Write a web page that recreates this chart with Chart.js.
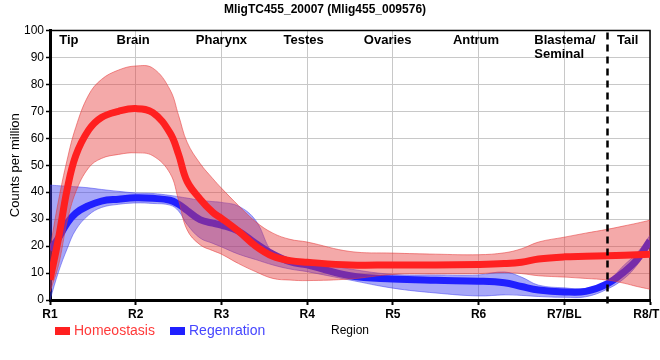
<!DOCTYPE html>
<html lang="en">
<head>
    <meta charset="UTF-8">
    <title>MligTC455_20007</title>
    <script src="https://cdn.jsdelivr.net/npm/chart.js"></script>
    <style>
        body { margin: 0; overflow: hidden; background: #fff; }
        #wrap { width: 660px; height: 360px; }
    </style>
</head>
<body>
    <div id="wrap"><canvas id="chart" width="660" height="360"></canvas></div>
    <script>
        // positions along the body, 1 = R1 ... 8 = R8
        const xs = [1, 1.1, 1.2, 1.3, 1.45, 1.6, 1.8, 2, 2.2, 2.4, 2.5, 2.6, 2.75, 2.9, 3, 3.2, 3.4, 3.6, 3.8, 4, 4.5, 5, 5.5, 6, 6.3, 6.5, 6.7, 7, 7.25, 7.5, 7.7, 7.85, 8];

        const homeoMean  = [7.5, 23, 41, 53.5, 63, 67.7, 70, 71, 69.5, 62, 54, 44, 37.5, 32.5, 30.3, 25.5, 20, 16.2, 14.6, 14, 13, 13, 13, 13.2, 13.5, 14, 15.2, 16, 16.2, 16.4, 16.6, 16.8, 17];
        const homeoUpper = [19, 37, 52, 64, 76, 81.8, 85.3, 86.8, 86, 78, 68.5, 58.5, 50.7, 45, 41.5, 35, 29, 24.8, 22.5, 21.5, 18, 17.4, 17, 16.8, 17.5, 19, 21.5, 23.3, 24.8, 26.2, 27.5, 28.5, 29.6];
        const homeoLower = [3, 13, 29, 40, 49, 52.5, 54, 54.6, 53.5, 47, 37, 26, 20.5, 18.3, 17, 13.5, 10.5, 8, 7.4, 7.2, 7.8, 9.5, 9.7, 9.8, 10.2, 9.8, 9, 8.5, 8, 7.4, 6.2, 5, 4];

        const regenMean  = [18.5, 23, 28.5, 32.2, 35, 36.7, 37.4, 37.9, 37.7, 37, 35.5, 33.2, 29.8, 28.5, 27.8, 25.5, 21, 17, 14.2, 13, 9, 7.8, 7.3, 7, 6.4, 5, 3.7, 3, 3.2, 6, 10.5, 15, 22];
        const regenUpper = [42.6, 42.4, 42.2, 42, 41.6, 41, 40.3, 39.7, 39.5, 38.8, 38.3, 37.8, 37, 36.5, 36.2, 34.8, 29.5, 17.5, 15.5, 14.5, 11.5, 9.5, 9.3, 9.3, 10.4, 8.5, 5.5, 4.5, 4.3, 7, 13, 17.5, 24];
        const regenLower = [0, 10.5, 19, 26, 31.5, 34.3, 35.5, 36, 35.8, 35.2, 33, 28, 23, 21, 19.7, 17, 15, 13, 11.5, 10.5, 7.4, 4.4, 2.6, 1.5, 1.9, 1.7, 1.3, 1.0, 1.2, 4, 8, 13, 20];

        const tickLabels = ['R1', 'R2', 'R3', 'R4', 'R5', 'R6', 'R7/BL', 'R8/TL'];
        const regionNames = ['Tip', 'Brain', 'Pharynx', 'Testes', 'Ovaries', 'Antrum', 'Blastema/\nSeminal', 'Tail'];
        const regionAt = [1.22, 1.97, 3.0, 3.96, 4.94, 5.97, 6.65, 7.74];
        const tailCut = 7.5;

        const RED = 'rgb(255,32,32)';
        const BLUE = 'rgb(32,32,255)';
        const FONT = "'Liberation Sans', Arial, sans-serif";
        Chart.defaults.font.family = FONT;
        Chart.defaults.color = '#000';

        function pts(vals) {
            return xs.map((x, i) => ({ x: x, y: vals[i] }));
        }

        function line(label, vals, color) {
            return {
                label: label, data: pts(vals), borderColor: color, borderWidth: 7,
                pointRadius: 0, fill: false, tension: 0.4
            };
        }

        function band(vals, edge, fillColor, fillTo) {
            return {
                label: '', data: pts(vals), borderColor: edge, borderWidth: 1,
                backgroundColor: fillColor, pointRadius: 0,
                fill: fillTo, tension: 0.4
            };
        }

        // extra drawing: region names, dashed tail line, frame, legend
        const decorations = {
            id: 'decorations',
            beforeDatasetsDraw(chart) {
                const { ctx, chartArea: a } = chart;
                ctx.save();
                ctx.strokeStyle = '#000';
                ctx.lineWidth = 1.5;
                ctx.beginPath();
                ctx.moveTo(a.left, a.top);
                ctx.lineTo(a.right, a.top);
                ctx.lineTo(a.right, a.bottom);
                ctx.stroke();
                ctx.restore();
            },
            afterDraw(chart) {
                const { ctx, chartArea: a } = chart;
                const xScale = chart.scales.x;
                ctx.save();

                // dashed separator of the tail region
                const cx = Math.round(xScale.getPixelForValue(tailCut)) + 0.5;
                ctx.strokeStyle = '#000';
                ctx.lineWidth = 2.5;
                ctx.setLineDash([7, 5]);
                ctx.beginPath();
                ctx.moveTo(cx, a.top + 2);
                ctx.lineTo(cx, a.bottom + 5);
                ctx.stroke();
                ctx.setLineDash([]);

                // region names
                ctx.font = 'bold 13px ' + FONT;
                ctx.fillStyle = '#000';
                ctx.textBaseline = 'middle';
                regionNames.forEach((name, i) => {
                    const px = xScale.getPixelForValue(regionAt[i]);
                    const rows = name.split('\n');
                    ctx.textAlign = rows.length > 1 ? 'left' : 'center';
                    rows.forEach((r, j) => ctx.fillText(r, px, a.top + 10 + j * 14));
                });

                // legend
                const items = [chart.data.datasets[0], chart.data.datasets[3]];
                let lx = 55;
                ctx.font = '14px ' + FONT;
                ctx.textAlign = 'left';
                items.forEach((ds, i) => {
                    ctx.fillStyle = ds.borderColor;
                    ctx.fillRect(lx, 327, 15, 8);
                    ctx.fillStyle = i === 0 ? '#ff3a3a' : '#4646ff';
                    ctx.fillText(ds.label, lx + 19, 331);
                    lx = 170;
                });
                ctx.restore();
            }
        };

        new Chart(document.getElementById('chart'), {
            type: 'line',
            data: {
                datasets: [
                    line('Homeostasis', homeoMean, RED),
                    band(homeoUpper, 'rgba(230,60,60,0.55)', 'rgba(230,60,60,0.44)', '+1'),
                    band(homeoLower, 'rgba(230,60,60,0.55)', 'rgba(230,60,60,0.44)', false),
                    line('Regenration', regenMean, BLUE),
                    band(regenUpper, 'rgba(60,60,240,0.5)', 'rgba(60,60,240,0.45)', '+1'),
                    band(regenLower, 'rgba(60,60,240,0.5)', 'rgba(60,60,240,0.45)', false)
                ]
            },
            options: {
                responsive: false,
                animation: false,
                layout: { padding: { left: 0, right: 10, top: 0, bottom: 0 } },
                plugins: {
                    legend: { display: false },
                    tooltip: { enabled: false },
                    title: {
                        display: true,
                        text: 'MligTC455_20007 (Mlig455_009576)',
                        font: { size: 12, weight: 'bold' },
                        color: '#000',
                        padding: { top: 2, bottom: 14 }
                    }
                },
                scales: {
                    x: {
                        type: 'linear', min: 1, max: 8,
                        ticks: {
                            stepSize: 1, autoSkip: false, maxRotation: 0,
                            font: { size: 12, weight: 'bold' }, color: '#000', padding: 2,
                            callback: v => tickLabels[v - 1]
                        },
                        grid: { color: '#c8c8c8', tickColor: '#000', tickLength: 5, tickWidth: 2 },
                        border: { display: true, color: '#000', width: 3 },
                        title: { display: true, text: 'Region', font: { size: 12 }, color: '#000', padding: { top: 0, bottom: 22 } },
                        afterFit(scale) { scale.height = 60; scale.paddingRight = 0; }
                    },
                    y: {
                        min: 0, max: 100,
                        ticks: { stepSize: 10, font: { size: 12 }, color: '#000', padding: 2 },
                        grid: { color: '#c8c8c8', tickColor: '#000', tickLength: 4, tickWidth: 1.5 },
                        border: { display: true, color: '#000', width: 3 },
                        title: { display: true, text: 'Counts per million', font: { size: 13 }, color: '#000', padding: { top: 8, bottom: 0 } },
                        afterFit(scale) { scale.width = 50; }
                    }
                }
            },
            plugins: [decorations]
        });
    </script>
</body>
</html>
